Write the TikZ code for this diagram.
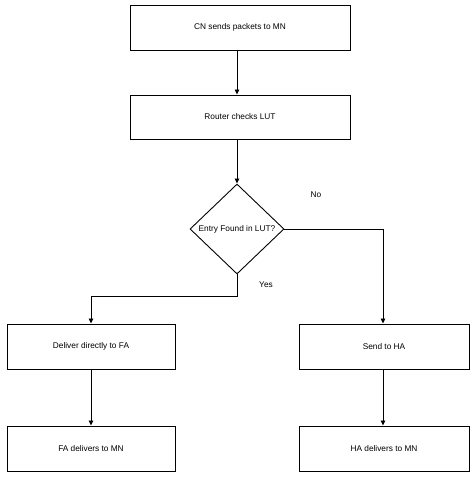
\documentclass[tikz,border=0pt]{standalone}
\usepackage{fontspec}
\setmainfont{Liberation Sans}
\usetikzlibrary{shapes.geometric,arrows.meta}
\begin{document}
\begin{tikzpicture}[x=1pt,y=1pt,
  every node/.style={font=\fontsize{8.3}{9}\selectfont},
  procbox/.style={draw, line width=0.9pt, minimum height=45pt, inner sep=0pt},
  decbox/.style={draw, diamond, line width=0.9pt, minimum width=94pt, minimum height=90pt, inner sep=0pt},
  flow/.style={line width=0.9pt, -{Triangle[width=4.5pt,length=5pt]}},
  lbl/.style={inner sep=0pt}]
\useasboundingbox (0,0) rectangle (474,477);
\node[procbox, minimum width=220pt] (b1) at (240,449.5) {CN sends packets to MN};
\node[procbox, minimum width=220pt, minimum height=44pt] (b2) at (240,360) {Router checks LUT};
\node[decbox] (d) at (237,248) {\makebox[0pt]{Entry Found in LUT?}};
\node[procbox, minimum width=168pt] (b3) at (91,130.5) {Deliver directly to FA};
\node[procbox, minimum width=168pt] (b4) at (91,28.5) {FA delivers to MN};
\node[procbox, minimum width=170pt] (b5) at (384,130.5) {Send to HA};
\node[procbox, minimum width=170pt] (b6) at (384,28.5) {HA delivers to MN};
\coordinate (yc) at (237,181);
\node[lbl] (no) at (316,282) {No};
\node[lbl] (yes) at (266,192) {Yes};
\draw[flow] (b1.south -| d.north) -- (b2.north -| d.north);
\draw[flow] (b2.south -| d.north) -- (d.north);
\draw[flow] (d.south) -- (yc) -| (b3.north);
\draw[flow] (d.east) -| ([xshift=-1pt]b5.north);
\draw[flow] (b3.south) -- (b4.north);
\draw[flow] ([xshift=-1pt]b5.south) -- ([xshift=-1pt]b6.north);
\end{tikzpicture}
\end{document}
